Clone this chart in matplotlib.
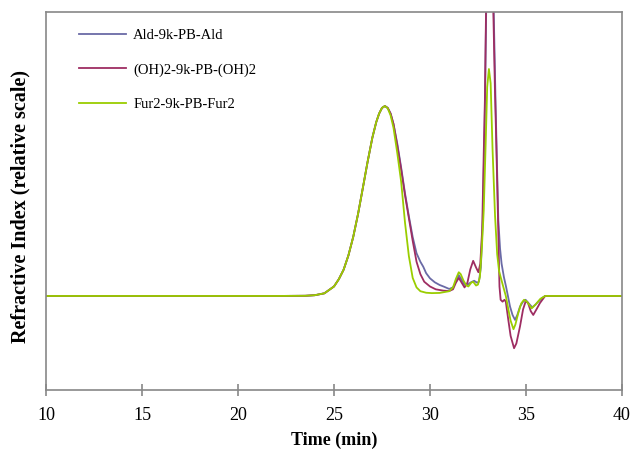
import matplotlib
matplotlib.use("Agg")
from matplotlib import pyplot as plt

# retention time (min) and relative RI signal
rise_x = [10, 22, 23.5, 24.0, 24.5, 25.0, 25.25, 25.5, 25.75, 26.0, 26.25, 26.5, 26.75, 27.0,
          27.2, 27.35, 27.5, 27.65]
rise_y = [0, 0, 0.001, 0.004, 0.014, 0.05, 0.088, 0.138, 0.213, 0.31, 0.43, 0.567, 0.706, 0.834,
          0.915, 0.96, 0.99, 1.0]

ald_x = [27.8, 27.95, 28.1, 28.3, 28.5, 28.7, 28.9, 29.1, 29.3, 29.5, 29.65, 29.8, 30.0, 30.25,
         30.5, 30.75, 31.0, 31.2, 31.35, 31.5, 31.65, 31.8, 31.95, 32.1, 32.3, 32.45, 32.55,
         32.65, 32.75, 32.85, 32.92, 33.0, 33.12, 33.22, 33.32, 33.42, 33.5, 33.56, 33.65,
         33.73, 33.85, 33.96, 34.07, 34.17, 34.3, 34.43, 34.55, 34.69, 34.85, 34.98, 35.15,
         35.33, 35.5, 35.64, 35.85, 36.0, 40]
ald_y = [0.99, 0.96, 0.905, 0.8, 0.675, 0.54, 0.42, 0.31, 0.225, 0.18, 0.154, 0.12, 0.093, 0.072,
         0.058, 0.048, 0.037, 0.045, 0.075, 0.11, 0.085, 0.06, 0.058, 0.07, 0.08, 0.07, 0.075,
         0.15, 0.4, 0.9, 1.45, 1.95, 2.2, 2.0, 1.5, 1.0, 0.65, 0.4, 0.25,
         0.17, 0.1, 0.05, -0.005, -0.056, -0.1, -0.126, -0.1, -0.056, -0.03, -0.02, -0.04,
         -0.06, -0.045, -0.03, -0.01, 0.0, 0.0]

oh_x = [27.8, 27.95, 28.1, 28.3, 28.5, 28.7, 28.9, 29.1, 29.3, 29.5, 29.7, 30.0, 30.3, 30.7, 31.0,
        31.2, 31.35, 31.5, 31.65, 31.8, 31.95, 32.1, 32.25, 32.4, 32.52, 32.62, 32.72, 32.8,
        32.86, 32.92, 33.0, 33.1, 33.2, 33.3, 33.38, 33.44, 33.5, 33.56, 33.62, 33.68, 33.78,
        33.88, 33.95, 34.08, 34.2, 34.38, 34.5, 34.69, 34.85, 34.98, 35.1, 35.25, 35.38,
        35.55, 35.73, 36.0, 40]
oh_y = [0.99, 0.96, 0.905, 0.79, 0.665, 0.53, 0.41, 0.29, 0.18, 0.115, 0.075, 0.05, 0.035, 0.028,
        0.026, 0.035, 0.07, 0.095, 0.07, 0.045, 0.07, 0.14, 0.185, 0.15, 0.125, 0.17, 0.35, 0.75,
        1.03, 1.5, 2.0, 2.3, 2.1, 1.5, 1.1, 0.86, 0.6, 0.33, 0.05, -0.02, -0.03,
        -0.02, -0.03, -0.126, -0.21, -0.275, -0.25, -0.16, -0.07, -0.03, -0.035, -0.08, -0.1,
        -0.07, -0.037, 0.0, 0.0]

fur_x = [27.8, 27.95, 28.1, 28.3, 28.5, 28.7, 28.9, 29.1, 29.3, 29.5, 29.8, 30.1, 30.5, 31.0,
         31.2, 31.35, 31.5, 31.6, 31.75, 31.9, 32.0, 32.15, 32.25, 32.4, 32.5, 32.6, 32.7, 32.8,
         32.9, 32.98, 33.07, 33.16, 33.26, 33.39, 33.5, 33.6, 33.8, 33.95, 34.1, 34.2, 34.35,
         34.45, 34.6, 34.75, 34.9, 35.05, 35.3, 35.5, 35.75, 36.0, 40]
fur_y = [0.988, 0.95, 0.885, 0.75, 0.6, 0.385, 0.21, 0.095, 0.045, 0.025, 0.017, 0.015, 0.016,
         0.025, 0.045, 0.09, 0.125, 0.115, 0.08, 0.055, 0.05, 0.07, 0.075, 0.055, 0.06, 0.1, 0.25,
         0.45, 0.8, 1.1, 1.195, 1.12, 0.77, 0.42, 0.22, 0.13, 0.055, 0.0, -0.08, -0.13, -0.175,
         -0.15, -0.09, -0.04, -0.02, -0.03, -0.065, -0.045, -0.015, 0.0, 0.0]

labels = ["Ald-9k-PB-Ald", "(OH)2-9k-PB-(OH)2", "Fur2-9k-PB-Fur2"]
colors = ["#6a6aa6", "#9e2d62", "#9acd00"]

plt.rcParams["font.family"] = ["Liberation Serif", "DejaVu Serif"]

fig = plt.figure(figsize=(6.34, 4.58), dpi=100)
ax = fig.add_axes([0.0726, 0.1485, 0.9084, 0.8253])

series = [(ald_x, ald_y), (oh_x, oh_y), (fur_x, fur_y)]
for (sx, sy), lab, col in zip(series, labels, colors):
    ax.plot(rise_x + sx, rise_y + sy, color=col, lw=1.3, label=lab)

ax.set_xlim(10, 40)
ax.set_ylim(-0.495, 1.495)
ax.set_xticks(range(10, 41, 5))
ax.set_yticks([])
ax.tick_params(axis="x", direction="inout", length=9, width=1.2, color="#888888",
               labelsize=13, pad=8)
for s in ax.spines.values():
    s.set_color("#888888")
    s.set_linewidth(1.2)

ax.set_xlabel("Time (min)", fontsize=13, fontweight="bold", labelpad=5)
ax.set_ylabel("Refractive Index (relative scale)", fontsize=14.5, fontweight="bold",
              labelpad=11, y=0.485)

ax.legend(loc="upper left", bbox_to_anchor=(0.035, 0.99), frameon=False, fontsize=10.5,
          handlelength=3.2, handletextpad=0.5, labelspacing=1.45)

fig.savefig("out.png", dpi=100)
